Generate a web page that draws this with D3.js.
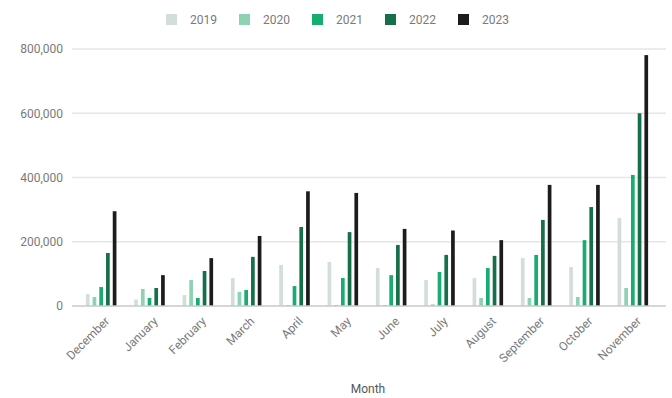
<!DOCTYPE html>
<html>
<head>
<meta charset="utf-8">
<script src="https://cdn.jsdelivr.net/npm/d3@7"></script>
<style>
  html, body { margin: 0; padding: 0; background: #fff; }
  svg { display: block; font-family: Roboto, "Noto Sans", sans-serif; }
</style>
</head>
<body>
<svg id="chart" width="672" height="398"></svg>
<script>
const months = ["December","January","February","March","April","May","June","July","August","September","October","November"];
const years = ["2019","2020","2021","2022","2023"];
const v2019 = [37000, 20000, 34000, 87000, 128000, 137000, 118000, 81000, 87000, 149000, 121000, 274000];
const v2020 = [28000, 53000, 81000, 44000, 3000, 3000, 3000, 5000, 25000, 25000, 28000, 56000];
const v2021 = [59000, 25000, 25000, 50000, 62000, 87000, 96000, 106000, 118000, 159000, 205000, 408000];
const v2022 = [165000, 56000, 109000, 153000, 246000, 230000, 190000, 159000, 156000, 268000, 308000, 600000];
const v2023 = [295000, 96000, 149000, 218000, 357000, 352000, 240000, 235000, 205000, 377000, 377000, 781000];
const yTicks = [0, 200000, 400000, 600000, 800000];
const colors = ["#d2dfd9", "#8fd2b3", "#17ad70", "#15704a", "#1c1c1c"];

const seriesValues = [v2019, v2020, v2021, v2022, v2023];
const data = months.map((m, i) => ({month: m, values: years.map((yr, j) => ({year: yr, value: seriesValues[j][i]}))}));

const svg = d3.select("#chart");
const mLeft = 72, mRight = 666, mTop = 49, mBottom = 306;

const x0 = d3.scaleBand().domain(months).range([77, 657]).paddingInner(0.34).paddingOuter(0.17);
const x1 = d3.scaleBand().domain(years).range([0, x0.bandwidth()]).paddingInner(0.45).paddingOuter(0.1);
const y = d3.scaleLinear().domain([0, 800000]).range([mBottom, mTop]);
const color = d3.scaleOrdinal().domain(years).range(colors);

// gridlines
svg.append("g").selectAll("line").data(yTicks.filter(d => d > 0)).join("line")
  .attr("x1", mLeft).attr("x2", mRight)
  .attr("y1", d => y(d)).attr("y2", d => y(d))
  .attr("stroke", "#e6e6e6").attr("stroke-width", 1.5);

// y axis labels
const yAxis = d3.axisLeft(y).tickValues(yTicks).tickFormat(d3.format(",")).tickSize(0).tickPadding(9);
const gy = svg.append("g").attr("transform", `translate(${mLeft},0)`).call(yAxis);
gy.select(".domain").remove();
gy.selectAll("text").attr("fill", "#7a7a7a").style("font-size", "12px").style("font-family", "Roboto, sans-serif");

// bars
const groups = svg.append("g").selectAll("g").data(data).join("g")
  .attr("transform", d => `translate(${x0(d.month)},0)`);
groups.selectAll("rect").data(d => d.values).join("rect")
  .attr("x", d => x1(d.year))
  .attr("width", x1.bandwidth())
  .attr("y", d => y(d.value))
  .attr("height", d => y(0) - y(d.value))
  .attr("fill", d => color(d.year));

// x axis
const xAxis = d3.axisBottom(x0).tickSize(0).tickPadding(0);
const gx = svg.append("g").attr("transform", `translate(0,${mBottom})`).call(xAxis);
gx.select(".domain").remove();
gx.selectAll("text")
  .attr("fill", "#7a7a7a").style("font-size", "12px").style("font-family", "Roboto, sans-serif")
  .attr("text-anchor", "end")
  .attr("x", 0).attr("y", 0).attr("dx", 0).attr("dy", "0.35em")
  .attr("transform", "translate(6,13) rotate(-45)");

// baseline
svg.append("line").attr("x1", mLeft).attr("x2", mRight)
  .attr("y1", y(0)).attr("y2", y(0))
  .attr("stroke", "#c8c8c8").attr("stroke-width", 1.5);

// x title
svg.append("text").attr("x", 368).attr("y", 393).attr("text-anchor", "middle")
  .attr("fill", "#555").style("font-size", "12px").text("Month");

// legend
const legendX = d3.scaleBand().domain(years).range([166, 531]);
const lg = svg.append("g").selectAll("g").data(years).join("g")
  .attr("transform", d => `translate(${legendX(d)},14)`);
lg.append("rect").attr("width", 11).attr("height", 11).attr("fill", d => color(d));
lg.append("text").attr("x", 24).attr("y", 10).attr("fill", "#7a7a7a")
  .style("font-size", "12px").text(d => d);
</script>
</body>
</html>
